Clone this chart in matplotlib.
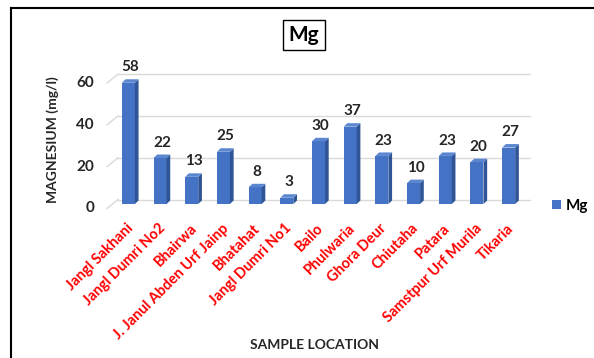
import matplotlib.pyplot as plt
from matplotlib.lines import Line2D
from matplotlib.patches import Polygon

plt.rcParams["font.family"] = ["Lato", "DejaVu Sans"]

locations = ["Jangl Sakhani", "Jangl Dumri No2", "Bhairwa", "J. Janul Abden Urf Jainp",
             "Bhatahat", "Jangl Dumri No1", "Bailo", "Phulwaria", "Ghora Deur",
             "Chiutaha", "Patara", "Samstpur Urf Murila", "Tikaria"]
mg = [58, 22, 13, 25, 8, 3, 30, 37, 23, 10, 23, 20, 27]
y_ticks = [0, 20, 40, 60]

FRONT = "#4472c4"
SIDE = "#2f5597"
TOP = "#5b86d0"

W, H = 594, 358
fig = plt.figure(figsize=(W / 100, H / 100), dpi=100)
# axes placed so that the bars sit in the middle of the 3D floor
ax = fig.add_axes([112.5 / W, 154 / H, 412 / W, 125.4 / H])
ax.set_xlim(-0.5, len(mg) - 0.5)
ax.set_ylim(0, 60)
ax.axis("off")

# pixel -> data unit helpers
px_x = (len(mg)) / 412.0
px_y = 60 / 125.4
DX, DY = 5.5 * px_x, 4.5 * px_y          # half floor depth
bw = 13 * px_x                            # bar face width
bdx, bdy = 3.7 * px_x, 3.5 * px_y        # bar depth

# gridlines on the back wall + side wall diagonal
x0, x1 = -0.5, len(mg) - 0.5
for t in y_ticks:
    ax.plot([x0 - DX, x0 + DX], [t - DY, t + DY], color="#d9d9d9", lw=1, clip_on=False, zorder=1)
    ax.plot([x0 + DX, x1 + DX], [t + DY, t + DY], color="#d9d9d9", lw=1, clip_on=False, zorder=1)
    ax.text(x0 - DX - 13 * px_x, t - DY, str(t), ha="right", va="center",
            fontsize=11, fontweight="bold", color="#262626")

# 3D-looking bars
for i, v in enumerate(mg):
    l, r = i - bw / 2, i + bw / 2
    ax.bar(i, v, width=bw, color=FRONT, zorder=3, clip_on=False)
    ax.add_patch(Polygon([(r, 0), (r + bdx, bdy), (r + bdx, v + bdy), (r, v)],
                         closed=True, fc=SIDE, ec="none", zorder=3, clip_on=False))
    ax.add_patch(Polygon([(l, v), (l + bdx, v + bdy), (r + bdx, v + bdy), (r, v)],
                         closed=True, fc=TOP, ec="none", zorder=3, clip_on=False))
    ax.annotate(str(v), (i + bdx / 2, v + bdy), xytext=(0, 3.5), textcoords="offset points",
                ha="center", va="bottom", fontsize=11, fontweight="bold", color="#262626")

# x tick labels
for i, name in enumerate(locations):
    ax.annotate(name, (i, 0), xytext=(2, -16), textcoords="offset points",
                ha="right", va="center", rotation=45, rotation_mode="anchor",
                fontsize=10.5, fontweight="bold", color="#ff0000")

fig.text(53 / W, 1 - 140 / H, "MAGNESIUM (mg/l)", rotation=90, ha="center", va="center",
         fontsize=10, fontweight="bold", color="#262626")
fig.text(315 / W, 1 - 345 / H, "SAMPLE LOCATION", ha="center", va="center",
         fontsize=10, fontweight="bold", color="#262626")
fig.text(304 / W, 1 - 35 / H, "Mg", ha="center", va="center", fontsize=15,
         fontweight="bold", color="#000000",
         bbox=dict(boxstyle="square,pad=0.25", fc="white", ec="black", lw=1))

handle = plt.Rectangle((0, 0), 1, 1, fc=FRONT)
fig.legend([handle], ["Mg"], loc="center left", bbox_to_anchor=(538 / W, 1 - 206 / H),
           frameon=False, handlelength=0.6, handleheight=0.6, handletextpad=0.3,
           prop={"weight": "bold", "size": 11})

# frame lines of the original figure
fig.add_artist(Line2D([11 / W, 11 / W], [0, 1 - 8 / H], color="black", lw=1.5))
fig.add_artist(Line2D([11 / W, 1], [1 - 8 / H, 1 - 8 / H], color="black", lw=1.5))

fig.savefig("out.png", dpi=100)
